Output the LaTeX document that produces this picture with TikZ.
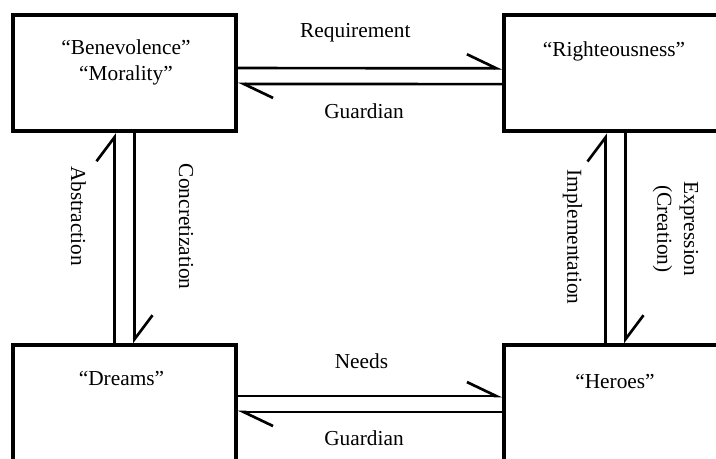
\documentclass[tikz,border=0pt]{standalone}
\usepackage{fontspec}
\setmainfont{Liberation Serif}
\usepackage{tikz}
\usetikzlibrary{arrows.meta}
\tikzstyle{box} = [draw, line width=3pt, minimum width=167pt, minimum height=87pt, inner sep=0pt]
\tikzstyle{txt} = [font=\fontsize{16}{20}\selectfont, inner sep=0pt, align=center]
\tikzstyle{vtxt} = [txt, rotate=-90]
\tikzstyle{harrow} = [line width=2pt, -{Straight Barb[harpoon, length=22pt, width=21pt]}]
\tikzstyle{varrow} = [line width=2pt, -{Straight Barb[harpoon, length=18pt, width=27pt]}]

\begin{document}
\begin{tikzpicture}[x=0.75pt, y=-0.75pt]
\useasboundingbox (0,0) rectangle (716,459);
\clip (0,0) rectangle (716,459);

\node[box] (benev) at (124.5,73.25) {};
\node[box] (righteous) at (615.5,73.5) {};
\node[box] (dreams) at (124.5,403.25) {};
\node[box] (heroes) at (615.5,403.25) {};

\node[txt] (benevtxt) at (126,62.5) {“Benevolence”\\“Morality”};
\node[txt, anchor=base] (righttxt) at (614,57) {“Righteousness”};
\node[txt, anchor=base] (dreamstxt) at (121.5,385) {“Dreams”};
\node[txt, anchor=base] (heroestxt) at (615,388) {“Heroes”};

%top pair
\draw[harrow] ([yshift=3.9pt]benev.east) -- ([yshift=3.9pt]righteous.west)
 node[txt, midway, xshift=-11pt, yshift=26.6pt] (req) {Requirement};
\draw[harrow] ([yshift=-8pt]righteous.west) -- ([yshift=-8pt]benev.east)
 node[txt, midway, xshift=-4.5pt, yshift=-20.6pt] (guardtop) {Guardian};

%bottom pair
\draw[harrow] ([yshift=5.4pt]dreams.east) -- ([yshift=5.4pt]heroes.west)
 node[txt, midway, xshift=-6.4pt, yshift=25.9pt] (needs) {Needs};
\draw[harrow] ([yshift=-6.6pt]heroes.west) -- ([yshift=-6.6pt]dreams.east)
 node[txt, midway, xshift=-4.5pt, yshift=-19.9pt] (guardbot) {Guardian};

%left pair
\draw[varrow] ([xshift=-7.5pt]dreams.north) -- ([xshift=-7.5pt]benev.south)
 node[midway, xshift=-27pt, yshift=16.5pt, vtxt] (abstr) {Abstraction};
\draw[varrow] ([xshift=7.5pt]benev.south) -- ([xshift=7.5pt]dreams.north)
 node[midway, xshift=38.6pt, yshift=8.6pt, vtxt] (concr) {Concretization};

%right pair
\draw[varrow] ([xshift=-7.5pt]heroes.north) -- ([xshift=-7.5pt]righteous.south)
 node[midway, xshift=-24.75pt, yshift=1.1pt, vtxt] (impl) {Implementation};
\draw[varrow] ([xshift=7.5pt]righteous.south) -- ([xshift=7.5pt]heroes.north)
 node[midway, xshift=37.5pt, yshift=7.1pt, vtxt] (expr) {Expression\\(Creation)};

\end{tikzpicture}
\end{document}
